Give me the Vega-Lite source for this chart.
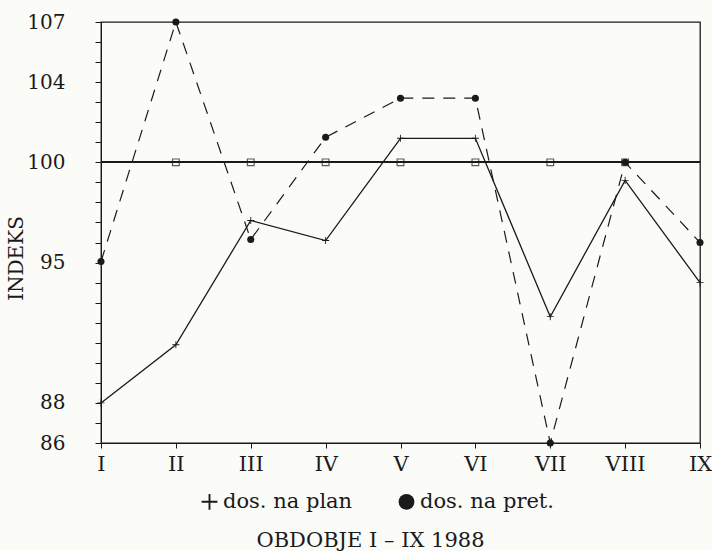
{
  "$schema": "https://vega.github.io/schema/vega-lite/v6.json",
  "width": 599,
  "height": 421,
  "autosize": "none",
  "padding": {"left": 101, "top": 22, "right": 12, "bottom": 108},
  "background": "#fbfbf8",
  "config": {
    "view": {"stroke": "#1a1a1a", "strokeWidth": 1.3},
    "font": "DejaVu Serif",
    "axis": {"domainColor": "#1a1a1a", "tickColor": "#1a1a1a", "labelColor": "#1a1a1a", "titleColor": "#1a1a1a", "grid": false, "labelFont": "DejaVu Serif", "titleFont": "DejaVu Serif", "titleFontWeight": "normal", "labelOverlap": false},
    "legend": {"labelFont": "DejaVu Serif", "labelFontSize": 21, "labelColor": "#1a1a1a"}
  },
  "data": {
    "values": [
      {"m": "I", "s": "plan", "v": 88},
      {"m": "II", "s": "plan", "v": 90.9},
      {"m": "III", "s": "plan", "v": 97.1},
      {"m": "IV", "s": "plan", "v": 96.1},
      {"m": "V", "s": "plan", "v": 101.2},
      {"m": "VI", "s": "plan", "v": 101.2},
      {"m": "VII", "s": "plan", "v": 92.3},
      {"m": "VIII", "s": "plan", "v": 99.1},
      {"m": "IX", "s": "plan", "v": 94},
      {"m": "I", "s": "pret", "v": 95.05},
      {"m": "II", "s": "pret", "v": 107},
      {"m": "III", "s": "pret", "v": 96.15},
      {"m": "IV", "s": "pret", "v": 101.25},
      {"m": "V", "s": "pret", "v": 103.2},
      {"m": "VI", "s": "pret", "v": 103.2},
      {"m": "VII", "s": "pret", "v": 86},
      {"m": "VIII", "s": "pret", "v": 100},
      {"m": "IX", "s": "pret", "v": 96},
      {"m": "II", "s": "ref", "v": 100},
      {"m": "III", "s": "ref", "v": 100},
      {"m": "IV", "s": "ref", "v": 100},
      {"m": "V", "s": "ref", "v": 100},
      {"m": "VI", "s": "ref", "v": 100},
      {"m": "VII", "s": "ref", "v": 100},
      {"m": "VIII", "s": "ref", "v": 100}
    ]
  },
  "layer": [
    {
      "mark": {"type": "rule", "color": "#1a1a1a", "strokeWidth": 1.2},
      "encoding": {"y": {"datum": 100, "type": "quantitative",
        "axis": {"values": [86,87,88,89,90,91,92,93,94,95,96,97,98,99,100,101,102,103,104,105,106,107],
                 "labelExpr": "indexof([86,88,95,100,104,107], datum.value) >= 0 ? datum.label : ''",
                 "labelOverlap": false,
                 "labelFontSize": 20, "tickSize": 6, "labelPadding": 30, "title": "INDEKS", "titleFontSize": 20, "titlePadding": 0, "titleY": 236}}}
    },
    {
      "encoding": {
        "x": {
          "field": "m", "type": "ordinal",
          "scale": {"type": "point", "padding": 0, "domain": ["I", "II", "III", "IV", "V", "VI", "VII", "VIII", "IX"]},
          "axis": {"labelAngle": 0, "labelFontSize": 21, "tickSize": 5, "labelPadding": 5, "title": "OBDOBJE I – IX 1988", "titleFontSize": 21, "titlePadding": 55, "titleX": 269, "titleAlign": "center"}
        },
        "y": {
          "field": "v", "type": "quantitative",
          "scale": {"domain": [86, 107], "nice": false, "zero": false},
          "axis": {"values": [86,87,88,89,90,91,92,93,94,95,96,97,98,99,100,101,102,103,104,105,106,107],
                   "labelExpr": "indexof([86,88,95,100,104,107], datum.value) >= 0 ? datum.label : ''",
                   "labelOverlap": false,
                   "labelFontSize": 20, "tickSize": 6, "labelPadding": 30, "title": "INDEKS", "titleFontSize": 20, "titlePadding": 0, "titleY": 236}
        }
      },
      "layer": [
        {
          "transform": [{"filter": "datum.s == 'plan'"}],
          "mark": {"type": "line", "color": "#1a1a1a", "strokeWidth": 1.3}
        },
        {
          "transform": [{"filter": "datum.s == 'pret'"}],
          "mark": {"type": "line", "color": "#1a1a1a", "strokeWidth": 1.2, "strokeDash": [12, 9]}
        },
        {
          "transform": [{"filter": "datum.s == 'ref'"}],
          "mark": {"type": "point", "shape": "square", "filled": false, "color": "#1a1a1a", "size": 45, "strokeWidth": 1.2}
        },
        {
          "transform": [{"filter": "datum.s != 'ref'"}],
          "mark": {"type": "point", "filled": true, "color": "#1a1a1a", "size": 50, "opacity": 1},
          "encoding": {
            "shape": {
              "field": "s", "type": "nominal",
              "scale": {"domain": ["plan", "pret"], "range": ["M-0.12,-1H0.12V-0.12H1V0.12H0.12V1H-0.12V0.12H-1V-0.12H-0.12Z", "circle"]},
              "legend": {"orient": "none", "legendX": 98, "legendY": 469, "direction": "horizontal", "title": null,
                         "labelExpr": "datum.label == 'plan' ? 'dos. na plan' : 'dos. na pret.'",
                         "labelFont": "DejaVu Serif", "labelFontSize": 21, "labelColor": "#1a1a1a", "symbolSize": 250, "symbolFillColor": "#1a1a1a", "symbolStrokeColor": "#1a1a1a", "columnPadding": 42, "labelOffset": 3}
            }
          }
        }
      ]
    }
  ]
}
